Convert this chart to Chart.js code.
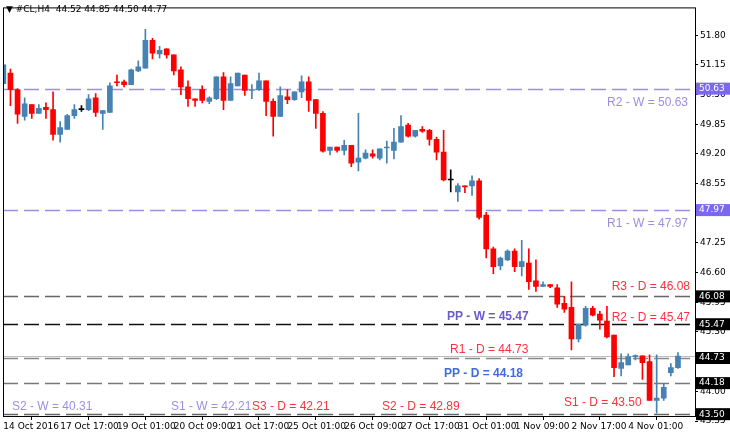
<!DOCTYPE html>
<html><head><meta charset="utf-8">
<script src="https://cdn.jsdelivr.net/npm/chart.js@4/dist/chart.umd.min.js"></script>
<style>html,body{margin:0;padding:0;background:#fff}#w{width:730px;height:444px}</style>
</head><body><div id="w"><canvas id="c"></canvas></div>
<script>
const opens  = [50.74,50.97,50.61,50.02,50.28,50.09,50.22,50.17,49.63,49.74,50.04,50.17,50.17,50.43,50.09,50.11,50.78,50.78,50.72,51.02,51.08,51.69,51.39,51.50,51.37,51.04,50.67,50.41,50.61,50.35,50.41,50.89,50.37,50.69,50.93,50.59,50.61,50.80,50.35,50.02,50.45,50.39,50.56,50.78,50.39,50.09,49.28,49.35,49.28,49.39,49.02,49.11,49.20,49.11,49.33,49.28,49.46,49.83,49.59,49.74,49.72,49.52,49.24,48.63,48.37,48.50,48.50,48.61,47.86,47.12,46.75,46.88,47.07,46.73,46.81,46.42,46.30,46.34,46.27,45.93,45.84,45.15,45.45,45.82,45.69,45.54,45.23,44.50,44.58,44.76,44.78,44.65,43.80,43.85,44.41,44.52];
const closes = [51.15,50.61,50.07,50.30,50.09,50.20,50.17,49.63,49.78,50.04,50.17,50.17,50.41,50.11,50.15,50.69,50.76,50.72,51.04,51.11,51.69,51.41,51.47,51.37,51.02,50.67,50.41,50.37,50.37,50.43,50.89,50.37,50.74,50.97,50.59,50.61,50.80,50.35,50.02,50.48,50.39,50.56,50.78,50.37,50.09,49.26,49.35,49.28,49.39,49.00,49.11,49.22,49.15,49.31,49.34,49.46,49.80,49.59,49.72,49.70,49.52,49.24,48.63,48.63,48.50,48.48,48.61,47.81,47.12,46.73,46.92,47.07,46.73,46.84,46.40,46.30,46.34,46.30,45.91,45.80,45.15,45.47,45.82,45.67,45.56,45.19,44.52,44.63,44.76,44.77,44.63,43.80,43.85,44.09,44.52,44.77];
const highs  = [51.17,51.06,50.63,50.43,50.28,50.28,50.32,50.56,49.91,50.07,50.28,50.26,50.50,50.52,50.15,50.76,50.93,50.82,51.06,51.24,51.93,51.73,51.56,51.50,51.37,51.11,50.80,50.41,50.69,50.45,50.89,50.98,50.89,50.97,50.93,50.72,50.97,50.80,50.41,50.67,50.61,50.56,50.91,50.89,50.39,50.13,49.35,49.35,49.50,49.39,50.09,49.29,49.29,49.31,49.48,49.76,50.04,49.87,49.72,49.80,49.74,49.57,49.72,48.85,48.55,48.50,48.72,48.66,47.92,47.16,46.94,47.10,47.12,47.31,47.12,46.88,46.40,46.34,46.34,46.08,46.40,45.47,45.86,45.86,45.75,45.86,45.23,44.82,44.82,44.80,44.78,44.80,44.80,44.17,44.61,44.85];
const lows   = [50.72,50.26,49.87,49.94,49.98,50.09,49.98,49.50,49.46,49.74,49.98,50.13,50.15,50.02,49.74,50.11,50.69,50.67,50.72,51.00,51.08,51.28,51.30,51.30,50.93,50.50,50.24,50.24,50.32,50.30,50.39,50.17,50.37,50.69,50.48,50.41,50.59,50.04,49.59,50.02,50.30,50.37,50.43,50.13,49.76,49.24,49.18,49.24,49.18,48.92,48.83,49.09,49.11,49.07,49.00,49.09,49.46,49.57,49.57,49.67,49.39,49.07,48.61,48.37,48.16,48.35,48.29,47.77,46.92,46.58,46.66,46.86,46.62,46.53,46.23,46.19,46.30,46.27,45.84,45.73,44.91,45.08,45.43,45.65,45.36,45.17,44.32,44.34,44.58,44.69,44.26,43.80,43.52,43.80,44.34,44.50];
const dojiBlack = [11,63];
const dateTicks = [0,8,16,24,32,40,48,56,64,72,80,88];
const dateLabels = ["14 Oct 2016","17 Oct 17:00","19 Oct 01:00","20 Oct 09:00","21 Oct 17:00","25 Oct 01:00","26 Oct 09:00","27 Oct 17:00","31 Oct 01:00","1 Nov 09:00","2 Nov 17:00","4 Nov 01:00"];
const priceTicks = [51.80,51.15,50.50,49.85,49.20,48.55,47.90,47.25,46.60,45.95,45.30,44.65,44.00,43.35];
const levelValues = [50.63,47.97,46.08,45.47,44.73,44.18,43.50];
const levelColors = ["#9c8fe3","#9c8fe3","#666","#111","#888","#777","#666"];
const levelBoxColors = ["#7b68ee","#7b68ee","#000","#000","#000","#000","#000"];
const bidPrice = 44.77;
const textLabels = [
 {t:"R2 - W = 50.63",v:50.63,x:688,dy:14,c:"#9c8fe3",b:false,a:"right"},
 {t:"R1 - W = 47.97",v:47.97,x:688,dy:14,c:"#9c8fe3",b:false,a:"right"},
 {t:"R3 - D = 46.08",v:46.08,x:690,dy:-10,c:"#ff3040",b:false,a:"right"},
 {t:"PP - W = 45.47",v:45.47,x:447,dy:-8,c:"#6a5acd",b:true,a:"left"},
 {t:"R2 - D = 45.47",v:45.47,x:690,dy:-7,c:"#ff3040",b:false,a:"right"},
 {t:"R1 - D = 44.73",v:44.73,x:450,dy:-8,c:"#ff3040",b:false,a:"left"},
 {t:"PP - D = 44.18",v:44.18,x:444,dy:-9,c:"#4169e1",b:true,a:"left"},
 {t:"S2 - W = 40.31",v:43.50,x:12,dy:-7,c:"#9c8fe3",b:false,a:"left"},
 {t:"S1 - W = 42.21",v:43.50,x:171,dy:-7,c:"#9c8fe3",b:false,a:"left"},
 {t:"S3 - D = 42.21",v:43.50,x:252,dy:-7,c:"#ff3040",b:false,a:"left"},
 {t:"S2 - D = 42.89",v:43.50,x:382,dy:-7,c:"#ff3040",b:false,a:"left"},
 {t:"S1 - D = 43.50",v:43.50,x:564,dy:-11,c:"#ff3040",b:false,a:"left"}
];
const BULL="#4682b4", BEAR="#ff0000";
const col = i => dojiBlack.includes(i) ? "#000" : (closes[i]>=opens[i]?BULL:BEAR);
const idx = opens.map((_,i)=>i);

const overlay = {
  id:'overlay',
  beforeDatasetsDraw(ch){
    const {ctx,chartArea:a,scales:{y}}=ch;
    ctx.save();
    ctx.beginPath();ctx.rect(a.left,a.top,a.right-a.left,a.bottom-a.top);ctx.clip();
    ctx.lineWidth=1;
    ctx.strokeStyle="#c0c0c0";ctx.setLineDash([]);
    let by=Math.round(y.getPixelForValue(bidPrice))+0.5;
    ctx.beginPath();ctx.moveTo(a.left,by);ctx.lineTo(a.right,by);ctx.stroke();
    levelValues.forEach((v,i)=>{
      const py=Math.round(y.getPixelForValue(v))+0.5;
      ctx.strokeStyle=levelColors[i];ctx.setLineDash([15,6]);ctx.lineWidth=1.4;
      ctx.beginPath();ctx.moveTo(a.left,py);ctx.lineTo(a.right,py);ctx.stroke();
    });
    ctx.restore();
  },
  afterDraw(ch){
    const {ctx,chartArea:a,scales:{y}}=ch;
    ctx.save();
    ctx.strokeStyle="#000";ctx.lineWidth=1;ctx.setLineDash([]);
    ctx.strokeRect(a.left+0.5,a.top+0.5,a.right-a.left,a.bottom-a.top);
    textLabels.forEach(l=>{
      ctx.font=(l.b?"bold ":"")+"12px 'Liberation Sans', Arial";
      ctx.fillStyle=l.c;ctx.textAlign=l.a;ctx.textBaseline="middle";
      ctx.fillText(l.t,l.x,y.getPixelForValue(l.v)+l.dy);
    });
    ctx.font="9px 'DejaVu Sans'";ctx.textAlign="left";ctx.textBaseline="middle";
    levelValues.forEach((v,i)=>{
      const py=y.getPixelForValue(v);
      ctx.fillStyle=levelBoxColors[i];ctx.fillRect(a.right+1,py-6,34,12);
      ctx.fillStyle="#fff";ctx.fillText(v.toFixed(2),a.right+4,py);
    });
    ctx.fillStyle="#000";ctx.font="9px 'DejaVu Sans'";
    ctx.fillText("▼ #CL,H4  44.52 44.85 44.50 44.77",6,10);
    ctx.restore();
  }
};

new Chart(document.getElementById('c'),{
  type:'bar',
  data:{datasets:[
    {data:idx.map(i=>({x:i,y:[lows[i],highs[i]]})),backgroundColor:idx.map(col),barThickness:1,grouped:false,order:2},
    {data:idx.map(i=>({x:i,y:[opens[i],closes[i]===opens[i]?opens[i]+0.012:closes[i]]})),backgroundColor:idx.map(col),barThickness:5,grouped:false,order:1,minBarLength:1}
  ]},
  options:{
    responsive:true,maintainAspectRatio:false,animation:false,
    layout:{padding:{left:3,top:3,right:0,bottom:0}},
    plugins:{legend:{display:false},tooltip:{enabled:false}},
    scales:{
      x:{type:'linear',min:-0.05,max:97.4,offset:false,
        afterBuildTicks(s){s.ticks=dateTicks.map(v=>({value:v}));},
        afterFit(s){s.height=28;s.paddingLeft=0;s.paddingRight=0;},
        grid:{drawOnChartArea:false,drawTicks:true,tickLength:4,color:"#000"},
        border:{display:false},
        ticks:{autoSkip:false,maxRotation:0,align:'start',padding:1,color:"#000",font:{family:"DejaVu Sans",size:9},
          callback:(v)=>{const k=dateTicks.indexOf(v);return k>=0?dateLabels[k]:"";}}
      },
      y:{position:'right',min:43.46,max:52.41,
        afterBuildTicks(s){s.ticks=priceTicks.map(v=>({value:v}));},
        afterFit(s){s.width=35;},
        grid:{drawOnChartArea:false,drawTicks:true,tickLength:3,color:"#000"},
        border:{display:false},
        ticks:{padding:2,color:"#000",font:{family:"DejaVu Sans",size:9},callback:v=>Number(v).toFixed(2)}
      }
    }
  },
  plugins:[overlay]
});
</script></body></html>
